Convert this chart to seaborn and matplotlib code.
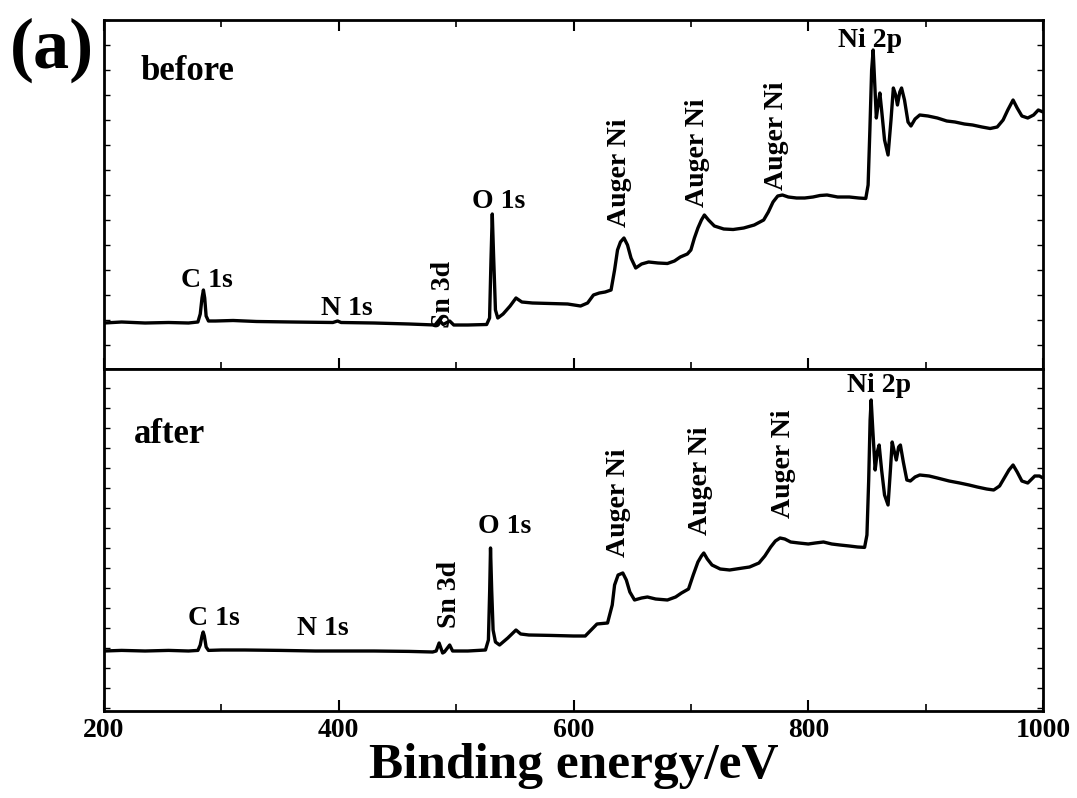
import matplotlib
matplotlib.use("Agg")
import matplotlib.pyplot as plt
from matplotlib.ticker import MultipleLocator
import numpy as np
import pandas as pd
import seaborn as sns

# ---------------- data ----------------
energy_before = [200, 215, 235, 255, 272, 280, 282, 283.5, 284.7, 285.8, 287, 289, 295, 310, 330, 360,
                 395, 399, 402, 430, 460, 482, 485.5, 489, 494.5, 498, 510, 526, 528.5, 529.7, 530.8,
                 531.9, 533.5, 535.5, 540, 546, 551, 556, 565, 580, 595, 606, 612, 617, 622, 627, 632,
                 635, 637.5, 640, 643, 646, 649, 653, 658, 664, 672, 680, 686, 691, 697, 700, 703, 706,
                 709, 711.5, 715, 720, 728, 736, 745, 754, 762, 766, 770, 774, 778, 783, 790, 797, 804,
                 810, 816, 825, 835, 843, 849, 851, 852.5, 854, 855.3, 856.5, 858, 859.5, 861, 862.5,
                 865, 868, 870.5, 872.5, 874.5, 876, 878, 879.5, 882, 885, 887.5, 891, 895, 902, 910,
                 918, 925, 933, 940, 948, 955, 961, 966, 970, 974.5, 978, 982, 987, 992, 996, 1000]
intensity_before = [0.88, 0.92, 0.88, 0.90, 0.88, 0.92, 1.24, 1.88, 2.20, 1.88, 1.16, 0.96, 0.96, 0.98,
                    0.94, 0.92, 0.90, 0.96, 0.90, 0.88, 0.84, 0.80, 1.00, 0.82, 0.96, 0.80, 0.80, 0.82,
                    1.08, 3.40, 5.24, 3.60, 1.40, 1.08, 1.24, 1.56, 1.88, 1.72, 1.68, 1.66, 1.64, 1.56,
                    1.68, 2.00, 2.08, 2.12, 2.20, 3.00, 3.80, 4.12, 4.28, 4.00, 3.48, 3.08, 3.24, 3.32,
                    3.28, 3.26, 3.36, 3.52, 3.64, 3.80, 4.28, 4.68, 5.00, 5.20, 5.00, 4.76, 4.64, 4.62,
                    4.68, 4.80, 5.00, 5.32, 5.72, 5.96, 6.00, 5.92, 5.88, 5.88, 5.92, 5.98, 6.00, 5.92,
                    5.92, 5.88, 5.86, 6.40, 8.60, 11.00, 11.80, 10.60, 9.08, 9.60, 10.08, 9.40, 8.20,
                    7.60, 9.00, 10.28, 10.00, 9.60, 10.12, 10.28, 9.80, 8.92, 8.76, 9.04, 9.20, 9.16,
                    9.08, 8.96, 8.92, 8.84, 8.80, 8.72, 8.66, 8.72, 9.00, 9.40, 9.80, 9.48, 9.16, 9.08,
                    9.20, 9.40, 9.32]

energy_after = [200, 215, 235, 255, 272, 280, 282, 283.5, 284.5, 285.5, 287, 289, 300, 320, 350, 380,
                400, 430, 460, 480, 483, 485.5, 488.5, 490, 494.5, 497, 510, 525, 527.5, 528.6, 529.3,
                530.3, 531.5, 533.5, 537, 544, 551, 555, 562, 580, 600, 610, 615, 620, 629, 633, 635,
                638, 642, 645, 648, 652, 658, 663, 670, 680, 687, 692, 698, 702, 706, 709, 711, 714,
                718, 725, 733, 742, 750, 758, 763, 768, 772, 776, 780, 785, 792, 800, 806, 813, 820,
                827, 835, 842, 848, 850, 851.5, 852.7, 853.6, 855, 857, 858.8, 860.4, 862.5, 865, 868,
                870, 871.5, 873, 875, 877, 878.5, 881, 884, 887, 891, 895, 903, 910, 920, 929, 937,
                944, 952, 958, 963, 967, 971, 974.5, 978, 982, 987, 993, 997, 1000]
intensity_after = [2.85, 2.88, 2.85, 2.88, 2.85, 2.88, 3.15, 3.60, 3.80, 3.60, 3.05, 2.88, 2.90, 2.90,
                   2.88, 2.85, 2.85, 2.85, 2.83, 2.80, 2.85, 3.25, 2.75, 2.80, 3.15, 2.85, 2.85, 2.90,
                   3.40, 5.90, 8.00, 5.90, 3.90, 3.30, 3.15, 3.50, 3.90, 3.70, 3.65, 3.63, 3.60, 3.60,
                   3.90, 4.20, 4.25, 5.15, 6.15, 6.65, 6.75, 6.40, 5.80, 5.40, 5.50, 5.55, 5.45, 5.40,
                   5.55, 5.75, 5.95, 6.65, 7.30, 7.60, 7.75, 7.45, 7.15, 6.95, 6.90, 6.98, 7.05, 7.25,
                   7.60, 8.05, 8.35, 8.50, 8.45, 8.30, 8.25, 8.20, 8.25, 8.30, 8.20, 8.15, 8.10, 8.05,
                   8.03, 8.65, 11.40, 14.40, 15.40, 13.90, 11.90, 12.80, 13.15, 11.90, 10.65, 10.15,
                   11.90, 13.30, 12.90, 12.40, 13.05, 13.15, 12.30, 11.40, 11.35, 11.55, 11.65, 11.60,
                   11.50, 11.35, 11.25, 11.15, 11.05, 10.95, 10.90, 11.10, 11.50, 11.90, 12.15, 11.80,
                   11.35, 11.25, 11.60, 11.60, 11.50]

# peak annotations: (text, energy, intensity, rotated)
labels_before = [("C 1s", 287.7, 2.32, False), ("N 1s", 406.8, 1.20, False),
                 ("Sn 3d", 489.4, 0.68, True), ("O 1s", 536.0, 5.48, False),
                 ("Auger Ni", 639.0, 4.72, True), ("Auger Ni", 705.5, 5.52, True),
                 ("Auger Ni", 772.8, 6.20, True), ("Ni 2p", 852.8, 11.92, False)]
labels_after = [("C 1s", 293.6, 4.15, False), ("N 1s", 386.4, 3.65, False),
                ("Sn 3d", 494.5, 4.00, True), ("O 1s", 541.0, 8.75, False),
                ("Auger Ni", 638.3, 7.55, True), ("Auger Ni", 708.0, 8.65, True),
                ("Auger Ni", 778.7, 9.50, True), ("Ni 2p", 860.0, 15.80, False)]

xticks = [200, 400, 600, 800, 1000]

df_before = pd.DataFrame({"energy": energy_before, "intensity": intensity_before})
df_after = pd.DataFrame({"energy": energy_after, "intensity": intensity_after})

# ---------------- style ----------------
sns.set_theme(style="ticks")
plt.rcParams["font.family"] = ["Liberation Serif", "DejaVu Serif"]
plt.rcParams["font.weight"] = "bold"
plt.rcParams["axes.labelweight"] = "bold"
for k in ("text.color", "axes.labelcolor", "xtick.color", "ytick.color", "axes.edgecolor"):
    plt.rcParams[k] = "black"

fig = plt.figure(figsize=(10.77, 7.98), dpi=100)
L, W = 104 / 1077, 939 / 1077
ax1 = fig.add_axes([L, 1 - 369 / 798, W, (369 - 20) / 798])
ax2 = fig.add_axes([L, 1 - 711 / 798, W, (711 - 369) / 798])

for ax, df in ((ax1, df_before), (ax2, df_after)):
    sns.lineplot(data=df, x="energy", y="intensity", ax=ax, color="black",
                 linewidth=2.4, estimator=None, sort=False)
    ax.set_xlim(200, 1000)
    ax.set_xlabel("")
    ax.set_ylabel("")
    ax.xaxis.set_major_locator(MultipleLocator(200))
    ax.xaxis.set_minor_locator(MultipleLocator(100))
    ax.yaxis.set_major_locator(MultipleLocator(1))
    ax.tick_params(axis="x", which="major", direction="in", length=8, width=1.5)
    ax.tick_params(axis="x", which="minor", direction="in", length=5, width=1.2)
    ax.tick_params(axis="y", which="major", direction="in", length=4, width=1.0,
                   left=True, right=True, labelleft=False, labelright=False)
    for s in ax.spines.values():
        s.set_linewidth(2.0)
        s.set_color("black")
    ax.set_facecolor("white")

ax1.set_ylim(-0.96, 13.0)
ax2.set_ylim(-0.15, 16.95)

ax1.tick_params(axis="x", which="both", top=True, bottom=True, labelbottom=False)
ax2.tick_params(axis="x", which="both", top=False, bottom=True, labelsize=20, pad=5)
ax2.set_xticks(xticks)
ax2.set_xticklabels([str(t) for t in xticks], fontweight="bold")

ax2.set_xlabel("Binding energy/eV", fontsize=37, fontweight="bold", labelpad=0)

for ax, labs in ((ax1, labels_before), (ax2, labels_after)):
    for txt, e, y, rot in labs:
        if rot:
            ax.text(e, y, txt, rotation=90, ha="center", va="bottom",
                    fontsize=20, fontweight="bold")
        else:
            ax.text(e, y, txt, ha="center", va="baseline",
                    fontsize=20, fontweight="bold")

ax1.text(0.039, 0.828, "before", transform=ax1.transAxes, fontsize=25,
         fontweight="bold", ha="left", va="baseline")
ax2.text(0.032, 0.784, "after", transform=ax2.transAxes, fontsize=25,
         fontweight="bold", ha="left", va="baseline")

fig.text(0.009, 0.978, "(a)", fontsize=52, fontweight="bold", ha="left", va="top")

fig.savefig("out.png", dpi=100, facecolor="white")
